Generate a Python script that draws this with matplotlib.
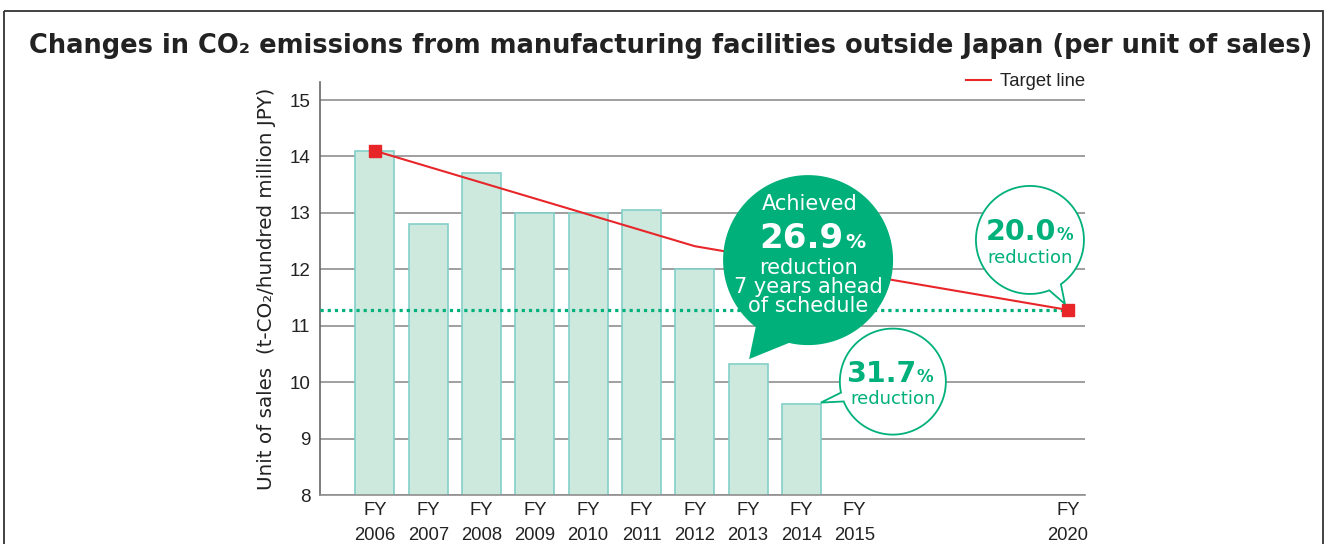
import matplotlib
matplotlib.use("Agg")
import matplotlib.pyplot as plt
import numpy as np
from matplotlib.patches import Polygon, Rectangle
from matplotlib.lines import Line2D

plt.rcParams['font.family'] = ['Liberation Sans', 'DejaVu Sans']

# ---------------- data ----------------
years = [2006, 2007, 2008, 2009, 2010, 2011, 2012, 2013, 2014, 2015, 2020]
bar_years = [2006, 2007, 2008, 2009, 2010, 2011, 2012, 2013, 2014]
bar_values = [14.1, 12.8, 13.7, 13.0, 13.0, 13.05, 12.0, 10.32, 9.62]
target_years = [2006, 2012, 2020]
target_values = [14.1, 12.41, 11.28]
target_level = 11.28
yticks = [8, 9, 10, 11, 12, 13, 14, 15]
title = "Changes in CO\u2082 emissions from manufacturing facilities outside Japan (per unit of sales)"
ylabel = "Unit of sales  (t-CO\u2082/hundred million JPY)"
legend_label = "Target line"

RED = '#e8262a'
GREEN = '#00b07a'
BAR_FACE = '#cde8dc'
BAR_EDGE = '#82d0c9'
GRID = '#8f8f8f'
TXT = '#222222'
BFONT = ['DejaVu Sans']


def pos(y):
    # 2006-2015 consecutive, then compressed gap up to 2020
    return (y - 2006) if y <= 2015 else 9 + (y - 2015) * 0.8


W, H = 1327, 544
fig = plt.figure(figsize=(W / 100, H / 100), dpi=100)
ax = fig.add_axes([320 / W, (H - 495) / H, 765 / W, (495 - 82) / H])
ax.set_xlim(-1.03, 13.32)
ax.set_ylim(8, 15.32)

ax.set_yticks(yticks)
ax.yaxis.grid(True, color=GRID, lw=1.2)
ax.set_axisbelow(True)
for s in ['top', 'right']:
    ax.spines[s].set_visible(False)
ax.spines['left'].set_color('#666666')
ax.spines['left'].set_linewidth(1.2)
ax.spines['bottom'].set_color(GRID)
ax.spines['bottom'].set_linewidth(1.2)
ax.tick_params(length=0, labelsize=13.5, colors=TXT)
ax.tick_params(axis='y', pad=7)
ax.tick_params(axis='x', pad=5)

bx = [pos(y) for y in bar_years]
ax.bar(bx, bar_values, width=0.73, color=BAR_FACE, edgecolor=BAR_EDGE, lw=1.2, zorder=2)

ax.set_xticks([pos(y) for y in years])
ax.set_xticklabels([f"FY\n{y}" for y in years], linespacing=1.65, fontsize=13.3)

# dotted target level
ax.hlines(target_level, ax.get_xlim()[0], pos(2020), colors=GREEN, lw=2.3,
          linestyles=(0, (1, 1.25)), zorder=3)

tx = [pos(y) for y in target_years]
ax.plot(tx, target_values, color=RED, lw=1.5, zorder=4)
ax.plot([tx[0], tx[-1]], [target_values[0], target_values[-1]], 's', ms=8,
        color=RED, zorder=5)

ax.set_ylabel(ylabel, fontsize=14.3, color=TXT, va='center', family=BFONT)
ax.yaxis.set_label_coords((267 - 320) / 765, 0.5)

leg = ax.legend([Line2D([], [], color=RED, lw=1.5)], [legend_label],
                loc='center right', bbox_to_anchor=(1.0, 1.0), frameon=False,
                fontsize=13.3, handlelength=1.35, handletextpad=0.5,
                borderaxespad=0, borderpad=0)
for t in leg.get_texts():
    t.set_color(TXT)

fig.text(671 / W, 1 - 46 / H, title, ha='center', va='center', fontsize=18.5,
         weight='bold', color=TXT, family=BFONT)

# ---------------- overlay in pixel coordinates ----------------
ov = fig.add_axes([0, 0, 1, 1])
ov.set_xlim(0, W)
ov.set_ylim(H, 0)
ov.axis('off')
ov.patch.set_alpha(0)
ov.set_zorder(10)

ov.add_patch(Rectangle((4, 11), 1319, 560, fill=False, ec='#333333', lw=1.3,
                       clip_on=False))


def to_px(x, y):
    d = ax.transData.transform((x, y))
    return d[0], H - d[1]


def bubble(tip, off, r, g1, g2, face, edge, lw):
    cx, cy = tip[0] + off[0], tip[1] + off[1]
    th = np.radians(np.linspace(g2, g1 + 360, 200))
    pts = np.column_stack([cx + r * np.cos(th), cy + r * np.sin(th)])
    pts = np.vstack([pts, [tip]])
    ov.add_patch(Polygon(pts, closed=True, fc=face, ec=edge, lw=lw,
                         joinstyle='miter', zorder=3))
    return cx, cy


# big green bubble pointing at FY2013 bar
t13 = to_px(pos(2013), bar_values[7])
cx, cy = bubble((t13[0] + 1, t13[1] - 5), (59, -99), 85, 103, 128, GREEN, GREEN, 0)
ov.text(cx + 2, cy - 50, "Achieved", color='white', fontsize=15, ha='center',
        va='baseline', zorder=4, family=BFONT)
ov.text(cx + 35, cy - 12, "26.9", color='white', fontsize=24.5, weight='bold',
        ha='right', va='baseline', zorder=4, family=BFONT)
ov.text(cx + 37, cy - 12, "%", color='white', fontsize=14.5, weight='bold',
        ha='left', va='baseline', zorder=4, family=BFONT)
ov.text(cx, cy + 27, "reduction\n7 years ahead\nof schedule", color='white',
        fontsize=15, ha='center', va='center', linespacing=0.95, zorder=4,
        family=BFONT)

# 20.0% bubble pointing at target marker (FY2020)
t20 = to_px(pos(2020), target_values[-1])
cx, cy = bubble((t20[0] - 3, t20[1] - 6), (-35, -64), 54, 55, 69, 'white', GREEN, 1.3)
ov.text(cx + 26, cy, "20.0", color=GREEN, fontsize=20.5, weight='bold',
        ha='right', va='baseline', zorder=4, family=BFONT)
ov.text(cx + 27, cy, "%", color=GREEN, fontsize=12, weight='bold',
        ha='left', va='baseline', zorder=4, family=BFONT)
ov.text(cx, cy + 23, "reduction", color=GREEN, fontsize=13, ha='center',
        va='baseline', zorder=4, family=BFONT)

# 31.7% bubble pointing at FY2014 bar corner
t14 = to_px(pos(2014) + 0.365, bar_values[8])
cx, cy = bubble((t14[0], t14[1] - 1), (72, -21), 53, 158, 168, 'white', GREEN, 1.3)
ov.text(cx + 23, cy, "31.7", color=GREEN, fontsize=20.5, weight='bold',
        ha='right', va='baseline', zorder=4, family=BFONT)
ov.text(cx + 24, cy, "%", color=GREEN, fontsize=12, weight='bold',
        ha='left', va='baseline', zorder=4, family=BFONT)
ov.text(cx, cy + 22, "reduction", color=GREEN, fontsize=13, ha='center',
        va='baseline', zorder=4, family=BFONT)

fig.savefig("out.png", dpi=100)
